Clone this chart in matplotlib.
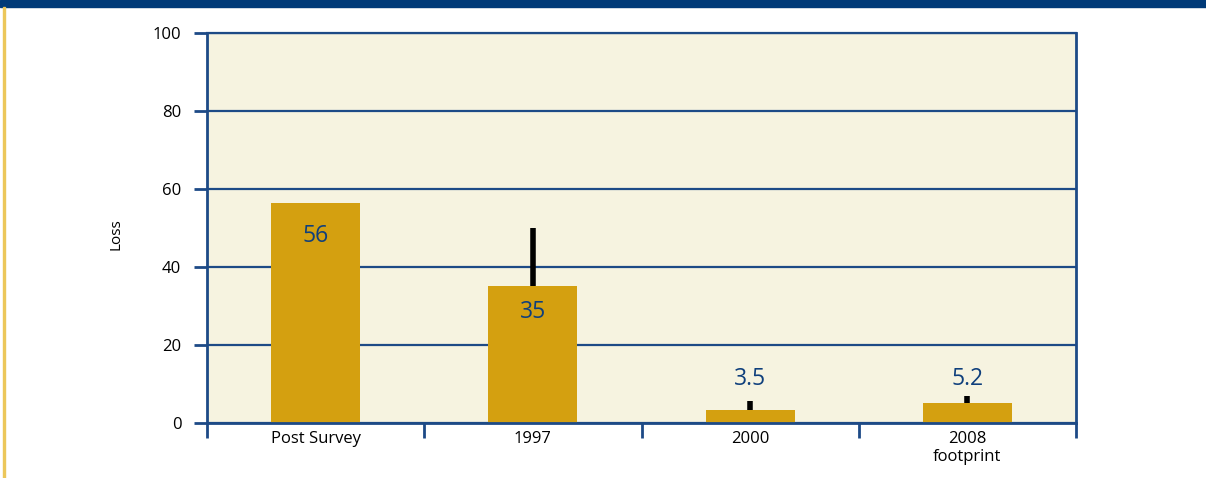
import matplotlib
matplotlib.use('Agg')
import matplotlib.pyplot as plt
from matplotlib.patches import Rectangle
import numpy as np

plt.rcParams['font.family'] = ['Open Sans', 'DejaVu Sans']

# data
categories = ['Post Survey', '1997', '2000', '2008\nfootprint']
values = [56.3, 35.1, 3.4, 5.2]
err_top = [None, 50.0, 5.6, 6.9]
labels = ['56', '35', '3.5', '5.2']
label_y = [48, 28.5, 11.4, 11.4]
yticks = [0, 20, 40, 60, 80, 100]

navy = '#003a78'
line_blue = '#1d4a86'
text_blue = '#0f3f7c'
gold = '#d4a010'
cream = '#f6f3e0'

fig = plt.figure(figsize=(12.06, 4.78), dpi=100)
fig.patches.append(Rectangle((0, 1 - 7 / 478), 1, 7 / 478, transform=fig.transFigure,
                             color=navy, zorder=0))
fig.patches.append(Rectangle((3.5 / 1206, 0), 1.8 / 1206, 1 - 7 / 478, transform=fig.transFigure,
                             color='#ecc75a', zorder=0))

ax = fig.add_axes([207 / 1206, 55 / 478, 869 / 1206, 390 / 478])
ax.set_facecolor(cream)

x = np.arange(len(categories))
ax.bar(x, values, width=0.41, color=gold, zorder=2)

# one-sided error bars
for xi, v, e in zip(x, values, err_top):
    if e is not None:
        ax.errorbar(xi, v, yerr=[[0], [e - v]], fmt='none', ecolor='black',
                    elinewidth=4, capsize=0, zorder=3)

for xi, lab, ly in zip(x, labels, label_y):
    ax.text(xi, ly, lab, ha='center', va='center', fontsize=16.5, color=text_blue, zorder=4)

ax.set_xlim(-0.5, len(categories) - 0.5)
ax.set_ylim(0, 100)
ax.set_yticks(yticks)
ax.yaxis.grid(True, color=line_blue, linewidth=1.6, zorder=1)
ax.set_axisbelow(True)

ax.set_xticks(np.arange(len(categories) + 1) - 0.5)
ax.set_xticklabels([])
ax.set_xticks(x, minor=True)
ax.set_xticklabels(categories, minor=True, fontsize=12, linespacing=1.1)
ax.tick_params(axis='x', which='major', length=11, width=2, color=line_blue, direction='out')
ax.tick_params(axis='x', which='minor', length=0, pad=6)
ax.tick_params(axis='y', length=9.5, width=2, color=line_blue, labelsize=12, pad=9)

for s in ['left', 'right', 'bottom', 'top']:
    ax.spines[s].set_color(line_blue)
    ax.spines[s].set_linewidth(2)
ax.spines['top'].set_linewidth(1.6)

ax.set_ylabel('Loss', fontsize=11)
ax.yaxis.set_label_coords(-0.096, 0.485)

fig.savefig('out.png', dpi=100)
